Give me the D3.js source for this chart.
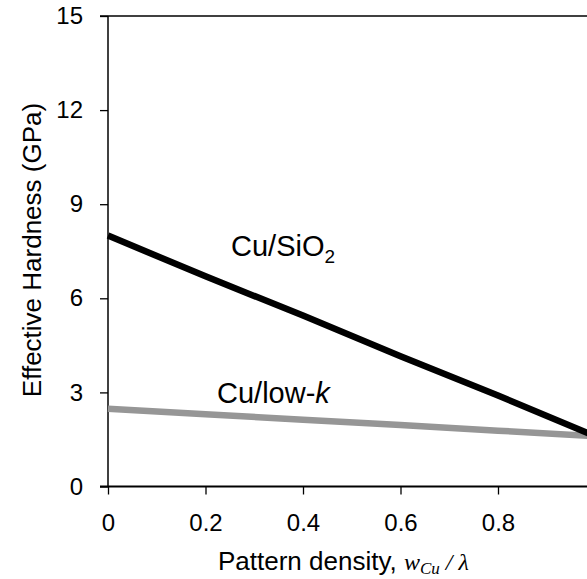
<!DOCTYPE html>
<html>
<head>
<meta charset="utf-8">
<script src="https://cdn.jsdelivr.net/npm/d3@7"></script>
<style>
  body { margin: 0; background: #fff; }
  text { font-family: "Liberation Sans", Arial, sans-serif; fill: #000; }
</style>
</head>
<body>
<div id="chart"></div>
<script>
const width = 587;
const height = 579;

// data
const density = [0, 0.2, 0.4, 0.6, 0.8, 1.0];
const cuSiO2 = [8.0, 6.7, 5.45, 4.15, 2.9, 1.6];
const cuLowK = [2.48, 2.3, 2.13, 1.96, 1.78, 1.6];
const xTicks = [0, 0.2, 0.4, 0.6, 0.8];
const yTicks = [0, 3, 6, 9, 12, 15];

const svg = d3.select('#chart')
    .append('svg')
    .attr('width', width)
    .attr('height', height);

const x = d3.scaleLinear().domain([0, 1]).range([108, 595.5]);
const y = d3.scaleLinear().domain([0, 15]).range([486.5, 16]);

// top frame line
svg.append('line')
    .attr('x1', 100).attr('x2', width)
    .attr('y1', y(15)).attr('y2', y(15))
    .style('stroke', '#000')
    .style('stroke-width', 1.5);

const yAxis = svg.append('g')
    .attr('transform', `translate(${x(0)},0)`)
    .call(d3.axisLeft(y).tickValues(yTicks).tickSize(8).tickPadding(17).tickFormat(d3.format('d')));

const xAxis = svg.append('g')
    .attr('transform', `translate(0,${y(0)})`)
    .call(d3.axisBottom(x).tickValues(xTicks).tickSize(8).tickPadding(19).tickFormat(d => d === 0 ? '0' : d3.format('.1f')(d)));

[yAxis, xAxis].forEach(g => {
    g.select('.domain').remove();
    g.selectAll('.tick line').style('stroke', '#000').style('stroke-width', 1.3);
    g.selectAll('.tick text')
        .style('font-family', '"Liberation Sans", Arial, sans-serif')
        .style('font-size', '24px')
        .style('fill', '#000');
});

// axis lines
svg.append('line')
    .attr('x1', x(0)).attr('x2', x(0))
    .attr('y1', y(15)).attr('y2', y(0))
    .style('stroke', '#000').style('stroke-width', 1.5);
svg.append('line')
    .attr('x1', 100).attr('x2', width)
    .attr('y1', y(0)).attr('y2', y(0))
    .style('stroke', '#000').style('stroke-width', 2);

const line = d3.line()
    .x((d, i) => x(density[i]))
    .y(d => y(d));

svg.append('path')
    .datum(cuLowK)
    .attr('d', line)
    .style('fill', 'none')
    .style('stroke', '#969696')
    .style('stroke-width', 6.5);

svg.append('path')
    .datum(cuSiO2)
    .attr('d', line)
    .style('fill', 'none')
    .style('stroke', '#000')
    .style('stroke-width', 6.5);

// series labels
const lab1 = svg.append('text')
    .attr('x', 231).attr('y', 256)
    .style('font-size', '29px');
lab1.append('tspan').text('Cu/SiO');
lab1.append('tspan').attr('dy', 7).style('font-size', '19px').text('2');

const lab2 = svg.append('text')
    .attr('x', 217).attr('y', 403)
    .style('font-size', '29px');
lab2.append('tspan').text('Cu/low-');
lab2.append('tspan').style('font-style', 'italic').text('k');

// axis titles
const serif = '"Liberation Serif", "Times New Roman", serif';
const xt = svg.append('text')
    .attr('x', 218).attr('y', 570)
    .style('font-size', '26px');
xt.append('tspan').text('Pattern density, ');
xt.append('tspan')
    .style('font-family', serif)
    .style('font-style', 'italic')
    .style('font-size', '24px')
    .text('w');
xt.append('tspan')
    .attr('dy', 4)
    .style('font-family', serif)
    .style('font-style', 'italic')
    .style('font-size', '17px')
    .text('Cu');
xt.append('tspan')
    .attr('dy', -4)
    .style('font-family', serif)
    .style('font-style', 'italic')
    .style('font-size', '24px')
    .text(' / λ');

svg.append('text')
    .attr('transform', 'translate(41,250) rotate(-90)')
    .attr('text-anchor', 'middle')
    .style('font-size', '26px')
    .text('Effective Hardness (GPa)');
</script>
</body>
</html>
